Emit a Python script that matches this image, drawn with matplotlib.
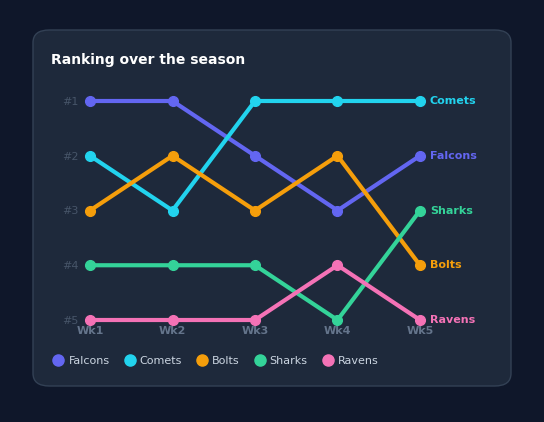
import matplotlib.pyplot as plt
from matplotlib.patches import FancyBboxPatch

weeks = ["Wk1", "Wk2", "Wk3", "Wk4", "Wk5"]
teams = ["Falcons", "Comets", "Bolts", "Sharks", "Ravens"]
ranks = {
    "Falcons": [1, 1, 2, 3, 2],
    "Comets": [2, 3, 1, 1, 1],
    "Bolts": [3, 2, 3, 2, 4],
    "Sharks": [4, 4, 4, 5, 3],
    "Ravens": [5, 5, 5, 4, 5],
}
colors = {
    "Falcons": "#6366f1",
    "Comets": "#22d3ee",
    "Bolts": "#f59e0b",
    "Sharks": "#34d399",
    "Ravens": "#f472b6",
}
rank_labels = ["#1", "#2", "#3", "#4", "#5"]

W, H = 544, 422
fig = plt.figure(figsize=(W / 100, H / 100), dpi=100)
fig.patch.set_facecolor("#0f172a")

# card behind the axes
card = FancyBboxPatch((33 / W, (H - 386) / H), 478 / W, 356 / H,
                      boxstyle="round,pad=0,rounding_size=0.03",
                      transform=fig.transFigure, facecolor="#1e293b",
                      edgecolor="#334155", linewidth=1, zorder=-5)
fig.patches.append(card)
fig.text(51 / W, (H - 60) / H, "Ranking over the season", color="white",
         fontsize=10, fontweight="bold", va="center")

ax = fig.add_axes([90 / W, (H - 320) / H, 330 / W, 219 / H])
ax.set_facecolor("none")
x = list(range(len(weeks)))
for t in teams:
    ax.plot(x, ranks[t], color=colors[t], lw=3, marker="o", ms=7,
            clip_on=False, label=t, solid_capstyle="round")
    ax.text(x[-1] + 0.12, ranks[t][-1], t, color=colors[t], fontsize=8,
            fontweight="bold", va="center")

ax.set_xlim(0, 4)
ax.set_ylim(5, 1)
ax.set_xticks(x)
ax.set_xticklabels(weeks, color="#64748b", fontweight="bold", fontsize=8)
ax.set_yticks([1, 2, 3, 4, 5])
ax.set_yticklabels(rank_labels, color="#475569", fontsize=8)
ax.tick_params(length=0, pad=8)
ax.tick_params(axis="x", pad=4)
for s in ax.spines.values():
    s.set_visible(False)

leg = fig.legend(loc="center left", bbox_to_anchor=(44 / W, (H - 361) / H),
                 ncol=5, frameon=False, fontsize=8, labelcolor="#cbd5e1",
                 handlelength=0.8, handletextpad=0.5, columnspacing=1.4)
for h in leg.legend_handles:
    h.set_linestyle("none")
    h.set_marker("o")
    h.set_markersize(8)

fig.savefig("out.png", dpi=100, facecolor=fig.get_facecolor())
